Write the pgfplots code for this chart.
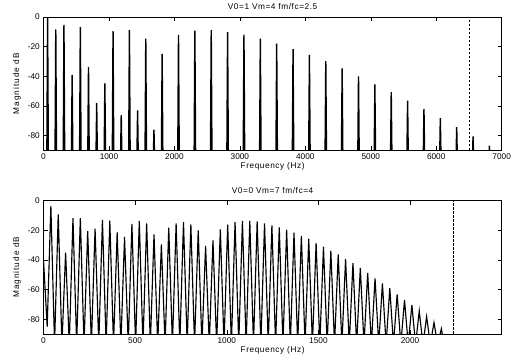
\documentclass[border=0pt]{standalone}
\usepackage{pgfplots}
\pgfplotsset{compat=1.18}
\usepackage{fontspec}
\setmainfont{Liberation Sans}
\newfontfamily\lsA{Liberation Sans}[LetterSpace=7]
\newfontfamily\lsB{Liberation Sans}[LetterSpace=12]
\begin{document}
\begin{tikzpicture}[font=\fontsize{8.3}{10}\selectfont]
\path[use as bounding box] (0,0) rectangle (515bp,364bp);
\pgfplotsset{
  mystyle/.style={
    scale only axis, width=458.2bp,
    ymin=-90, ymax=0,
    ytick={-80,-60,-40,-20,0},
    tick align=inside, major tick length=4bp,
    tick style={black, line width=0.5pt},
    axis line style={line width=0.6pt},
    /pgf/number format/assume math mode=true,
    /pgf/number format/1000 sep={},
    scaled x ticks=false,
    every axis title shift=0pt,
    title style={at={(axis description cs:0.5,1.0547)}, anchor=base, inner sep=0pt, font=\fontsize{8.3}{10}\lsA},
    xlabel={Frequency (Hz)},
    xlabel style={at={(axis description cs:0.5,-0.1386)}, anchor=base, inner sep=0pt, font=\fontsize{8.3}{10}\lsA},
    ylabel={Magnitude dB},
    ylabel style={at={(axis description cs:-0.058,0.5)}, anchor=center, inner sep=0pt, font=\fontsize{8.3}{10}\lsB},
    xticklabel style={anchor=base, yshift=-9.5bp, inner sep=0pt},
    yticklabel style={anchor=east, xshift=-3.5bp, inner sep=0pt},
  }
}
% ---------------- top ----------------
\begin{axis}[mystyle, at={(43.5bp,213.5bp)}, anchor=south west,
  height=133.5bp, xmin=0, xmax=7000, xtick={0,1000,...,7000},
  title={V0=1 Vm=4 fm/fc=2.5}]
\addplot[black, line width=1.4pt] coordinates {
(50.5,-100) (62.5,-0.3) (74.5,-100)
(175.5,-100) (187.5,-8.3) (199.5,-100)
(300.5,-100) (312.5,-5.3) (324.5,-100)
(425.5,-100) (437.5,-39) (449.5,-100)
(550.5,-100) (562.5,-6.8) (574.5,-100)
(675.5,-100) (687.5,-33.8) (699.5,-100)
(800.5,-100) (812.5,-58) (824.5,-100)
(925.5,-100) (937.5,-44.8) (949.5,-100)
(1050.5,-100) (1062.5,-9.6) (1074.5,-100)
(1175.5,-100) (1187.5,-66.2) (1199.5,-100)
(1300.5,-100) (1312.5,-8.9) (1324.5,-100)
(1425.5,-100) (1437.5,-62.9) (1449.5,-100)
(1550.5,-100) (1562.5,-14.5) (1574.5,-100)
(1675.5,-100) (1687.5,-76) (1699.5,-100)
(1800.5,-100) (1812.5,-24.8) (1824.5,-100)
(2050.5,-100) (2062.5,-12) (2074.5,-100)
(2300.5,-100) (2312.5,-9.2) (2324.5,-100)
(2550.5,-100) (2562.5,-8.9) (2574.5,-100)
(2800.5,-100) (2812.5,-10.2) (2824.5,-100)
(3050.5,-100) (3062.5,-11.9) (3074.5,-100)
(3300.5,-100) (3312.5,-14.6) (3324.5,-100)
(3550.5,-100) (3562.5,-17.9) (3574.5,-100)
(3800.5,-100) (3812.5,-21.7) (3824.5,-100)
(4050.5,-100) (4062.5,-25.5) (4074.5,-100)
(4300.5,-100) (4312.5,-29.8) (4324.5,-100)
(4550.5,-100) (4562.5,-34.7) (4574.5,-100)
(4800.5,-100) (4812.5,-40) (4824.5,-100)
(5050.5,-100) (5062.5,-45.5) (5074.5,-100)
(5300.5,-100) (5312.5,-50.7) (5324.5,-100)
(5550.5,-100) (5562.5,-56.3) (5574.5,-100)
(5800.5,-100) (5812.5,-62) (5824.5,-100)
(6050.5,-100) (6062.5,-68.1) (6074.5,-100)
(6300.5,-100) (6312.5,-74.2) (6324.5,-100)
(6550.5,-100) (6562.5,-80.5) (6574.5,-100)
(6800.5,-100) (6812.5,-86.8) (6824.5,-100)
};
\addplot[black, line width=0.8pt, dash pattern=on 2.5bp off 1.5bp] coordinates {(6500,-90) (6500,0)};
\end{axis}
% ---------------- bottom ----------------
\begin{axis}[mystyle, at={(43.5bp,30bp)}, anchor=south west,
  height=133.3bp, xmin=0, xmax=2500, xtick={0,500,...,2000},
  title={V0=0 Vm=7 fm/fc=4}]
\addplot[black, line width=1.15pt] coordinates {
(0,-40) (20.1,-85)
(40.2,-3.6) (60.3,-97) (80.4,-9.2) (100.5,-97) (120.6,-35.1) (140.7,-97)
(160.8,-11.7) (180.9,-97) (201,-11.7) (221.1,-97) (241.2,-20.5) (261.3,-97)
(281.4,-18.9) (301.5,-97) (321.6,-13) (341.7,-97) (361.8,-13.5) (381.9,-97)
(402,-21.4) (422.1,-97) (442.2,-24.5) (462.3,-97) (482.4,-15.7) (502.5,-97)
(522.6,-13.7) (542.7,-97) (562.8,-15.3) (582.9,-97) (603,-22.7) (623.1,-97)
(643.2,-29.5) (663.3,-97) (683.4,-18.2) (703.5,-97) (723.6,-15.3) (743.7,-97)
(763.8,-14.4) (783.9,-97) (804,-16) (824.1,-97) (844.2,-20) (864.3,-97)
(884.4,-30.6) (904.5,-97) (924.6,-26.8) (944.7,-97) (964.8,-19.3) (984.9,-97)
(1005,-16.2) (1025.1,-97) (1045.2,-14.4) (1065.3,-97) (1085.4,-13.7) (1105.5,-97)
(1125.6,-13.7) (1145.7,-97) (1165.8,-13.9) (1185.9,-97) (1206,-15.3) (1226.1,-97)
(1246.2,-16.6) (1266.3,-97) (1286.4,-18) (1306.5,-97) (1326.6,-19.6) (1346.7,-97)
(1366.8,-21.6) (1386.9,-97) (1407,-23.8) (1427.1,-97) (1447.2,-25.6) (1467.3,-97)
(1487.4,-28.6) (1507.5,-97) (1527.6,-31.1) (1547.7,-97) (1567.8,-33.8) (1587.9,-97)
(1608,-36.2) (1628.1,-97) (1648.2,-39.4) (1668.3,-97) (1688.4,-42.1) (1708.5,-97)
(1728.6,-45.4) (1748.7,-97) (1768.8,-48.8) (1788.9,-97) (1809,-52.4) (1829.1,-97)
(1849.2,-55.8) (1869.3,-97) (1889.4,-59) (1909.5,-97) (1929.6,-63.2) (1949.7,-97)
(1969.8,-67) (1989.9,-97) (2010,-70.4) (2030.1,-97) (2050.2,-74.5) (2070.3,-97)
(2090.4,-78.3) (2110.5,-97) (2130.6,-82.3) (2150.7,-97) (2170.8,-86.4) (2190.9,-100)
};
\addplot[black, line width=0.8pt, dash pattern=on 2.5bp off 1.5bp] coordinates {(2235,-90) (2235,0)};
\end{axis}
\end{tikzpicture}
\end{document}
